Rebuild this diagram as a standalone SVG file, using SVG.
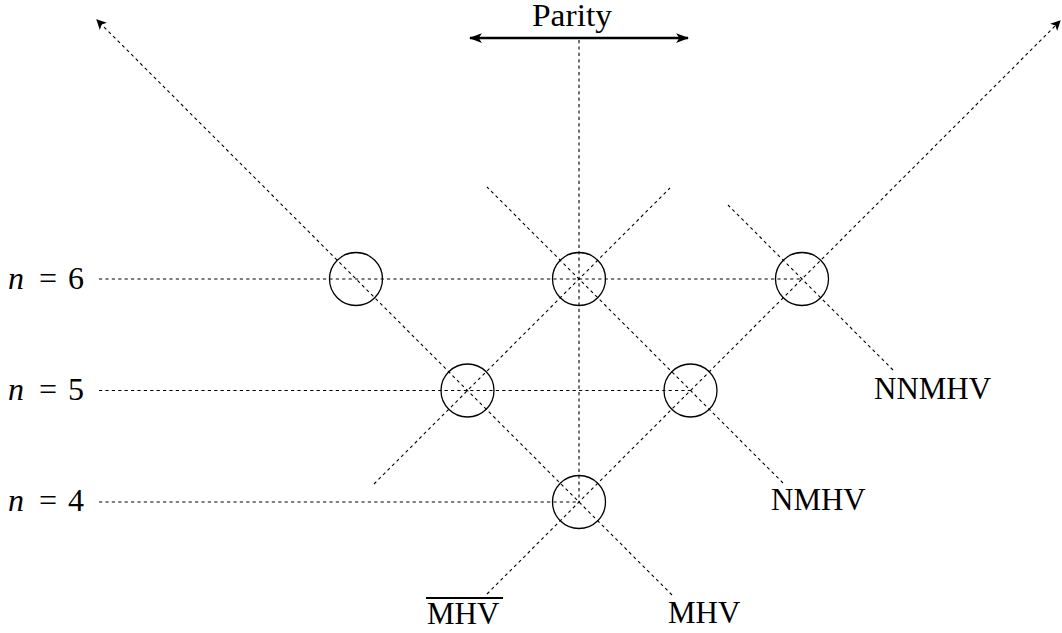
<svg xmlns="http://www.w3.org/2000/svg" width="1062" height="633" viewBox="0 0 1062 633">
<style>
.dash{fill:none;stroke:#000;stroke-width:1.1;stroke-dasharray:3.2 3.2}
.node{fill:none;stroke:#000;stroke-width:1.3}
text{font-family:'Liberation Serif','DejaVu Serif','Times New Roman',Times,serif}
</style>
<defs>
<marker id="ah" viewBox="0 0 10 10" refX="9" refY="5" markerWidth="10" markerHeight="10" markerUnits="userSpaceOnUse" orient="auto">
<path d="M0,0 L10,5 L0,10 L2.5,5 Z" fill="#000"/>
</marker>
<marker id="ahp" viewBox="0 0 12 10" refX="11" refY="5" markerWidth="13" markerHeight="11" markerUnits="userSpaceOnUse" orient="auto-start-reverse">
<path d="M0,0.5 L12,5 L0,9.5 L3,5 Z" fill="#000"/>
</marker>
</defs>
<rect width="1062" height="633" fill="#fff"/>
<g id="connectors">
<path class="dash" d="M99 279 H802"/>
<path class="dash" d="M99 390.5 H690.5"/>
<path class="dash" d="M99 502 H579"/>
<path class="dash" d="M579 40 V502"/>
<path class="dash" d="M487 594 L1060 21" marker-end="url(#ah)"/>
<path class="dash" d="M672 595 L97 20" marker-end="url(#ah)"/>
<path class="dash" d="M783 483 L487 187"/>
<path class="dash" d="M893 370 L728 205"/>
<path class="dash" d="M374 484 L670 188"/>
<path d="M470 38 H688" fill="none" stroke="#000" stroke-width="2.4" marker-start="url(#ahp)" marker-end="url(#ahp)"/>
</g>
<g id="n6_a"><circle class="node" cx="356" cy="279" r="26.5"/></g>
<g id="n6_b"><circle class="node" cx="579" cy="279" r="26.5"/></g>
<g id="n6_c"><circle class="node" cx="802" cy="279" r="26.5"/></g>
<g id="n5_a"><circle class="node" cx="467.5" cy="390.5" r="26.5"/></g>
<g id="n5_b"><circle class="node" cx="690.5" cy="390.5" r="26.5"/></g>
<g id="n4_a"><circle class="node" cx="579" cy="502" r="26.5"/></g>
<g id="labels" font-size="31" fill="#000">
<text x="572" y="26" text-anchor="middle" textLength="80" lengthAdjust="spacingAndGlyphs">Parity</text>
<text y="289" font-size="32"><tspan x="8" font-style="italic">n</tspan><tspan x="39">=</tspan><tspan x="68">6</tspan></text>
<text y="400" font-size="32"><tspan x="8" font-style="italic">n</tspan><tspan x="39">=</tspan><tspan x="68">5</tspan></text>
<text y="511" font-size="32"><tspan x="8" font-style="italic">n</tspan><tspan x="39">=</tspan><tspan x="68">4</tspan></text>
<g id="mhvbar">
<text x="427" y="624">MHV</text>
<line x1="426" y1="598" x2="503" y2="598" stroke="#000" stroke-width="2"/>
</g>
<text x="668" y="623">MHV</text>
<text x="771" y="510">NMHV</text>
<text x="874" y="399">NNMHV</text>
</g>
</svg>
